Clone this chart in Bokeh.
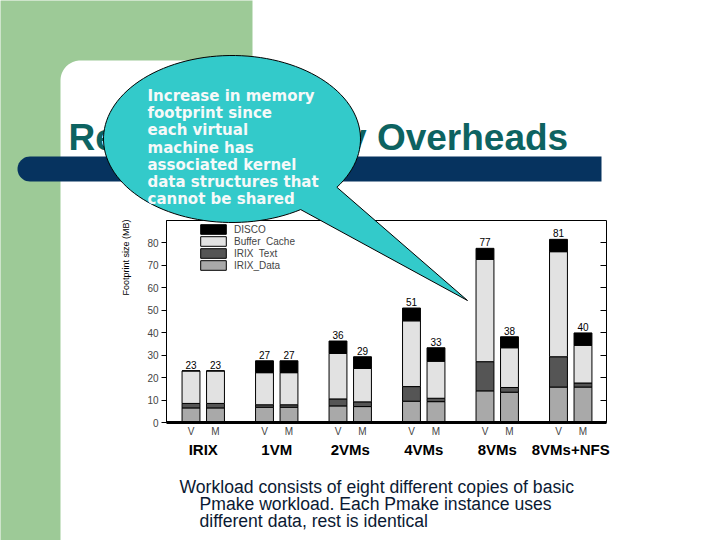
import math
from bokeh.plotting import figure
from bokeh.models import (Range1d, ColumnDataSource, Legend, LegendItem,
                          LabelSet, LinearAxis, FixedTicker)
from bokeh.embed import file_html
from bokeh.resources import INLINE
from bokeh.core.properties import value

# ---------------- data ----------------
groups = ["IRIX", "1VM", "2VMs", "4VMs", "8VMs", "8VMs+NFS"]
modes = ["V", "M"]
irix_data = [6.5, 6.5, 6.8, 6.8, 7.4, 7.1, 9.5, 9.3, 14.1, 13.5, 15.8, 15.8]
irix_text = [2.0, 2.0, 1.1, 1.1, 3.1, 2.1, 6.5, 1.5, 13.0, 2.1, 13.5, 1.8]
buffer_cache = [14.5, 14.5, 14.3, 14.3, 20.3, 14.9, 29.3, 16.5, 45.6, 17.7, 46.8, 16.8]
disco = [0.0, 0.0, 5.3, 5.3, 5.5, 5.2, 5.7, 6.0, 4.9, 4.9, 5.5, 5.5]
totals = [23, 23, 27, 27, 36, 29, 51, 33, 77, 38, 81, 40]
y_ticks = [0, 10, 20, 30, 40, 50, 60, 70, 80]
series_names = ["IRIX_Data", "IRIX  Text", "Buffer  Cache", "DISCO"]
series_colors = ["#a9a9a9", "#555555", "#e2e2e2", "#000000"]
y_label = "Footprint size (MB)"
title_text = "Results: Memory Overheads"
callout_lines = ["Increase in memory", "footprint since", "each virtual", "machine has",
                 "associated kernel", "data structures that", "cannot be shared"]
footer_lines = ["Workload consists of eight different copies of basic",
                "Pmake workload. Each Pmake instance uses",
                "different data, rest is identical"]

# dodge: each group takes 3 slots (V, M, gap)
GROUP_STEP = 3
xpos = [gi * GROUP_STEP + mi for gi in range(len(groups)) for mi in range(len(modes))]
sub_labels = [m for g in groups for m in modes]
group_centers = [gi * GROUP_STEP + (len(modes) - 1) / 2 for gi in range(len(groups))]
tops = [a + b + c + d for a, b, c, d in zip(irix_data, irix_text, buffer_cache, disco)]
source = ColumnDataSource(dict(x=xpos, irix_data=irix_data, irix_text=irix_text,
                               buffer_cache=buffer_cache, disco=disco, top=tops,
                               total=[str(t) for t in totals]))

# ---------------- layout ----------------
W, H = 720, 540
FL, FR, FT, FB = 166, 606, 220, 422       # chart box in page pixels
CX0, CX1, CY0, CY1 = -1.0, 16.96, 0, 90   # chart box in chart units


def stretch(v0, v1, p0, p1, P0, P1):
    """range whose values v0,v1 sit at pixels p0,p1 of a span P0..P1"""
    k = (v1 - v0) / (p1 - p0)
    return Range1d(v0 - (p0 - P0) * k, v1 + (P1 - p1) * k)


p = figure(x_range=Range1d(0, W), y_range=Range1d(H, 0), width=W, height=H,
           output_backend="svg", toolbar_location=None,
           x_axis_location=None, y_axis_location=None,
           min_border=0, min_border_left=0, min_border_right=0,
           min_border_top=0, min_border_bottom=0)
p.title.visible = False
p.xgrid.visible = False
p.ygrid.visible = False
p.outline_line_color = None
p.background_fill_color = "white"
p.border_fill_color = "white"

p.extra_x_ranges = {"cx": stretch(CX0, CX1, FL, FR, 0, W)}
p.extra_y_ranges = {"cy": stretch(CY0, CY1, FB, FT, H, 0)}

# ---------------- slide decorations (page pixels) ----------------
gx, gy = [-10, 252, 252], [-10, -10, 60]
for k in range(0, 21):
    t = -math.pi / 2 - k * (math.pi / 2) / 20
    gx.append(80 + 20 * math.cos(t))
    gy.append(80 + 20 * math.sin(t))
gx += [60, -10]
gy += [560, 560]
p.patch(gx, gy, fill_color="#9dca97", line_color=None)

nx, ny = [], []
for k in range(0, 21):
    t = math.pi / 2 + k * math.pi / 20
    nx.append(29.5 + 12.5 * math.cos(t))
    ny.append(168.5 + 12.5 * math.sin(t))
nx += [601, 601]
ny += [156, 181]
p.patch(nx, ny, fill_color="#06335f", line_color=None)

p.text(x=[68], y=[137], text=[title_text], text_font=value("Liberation Sans"),
       text_font_style="bold", text_font_size=value("37px"), text_color="#0d6361",
       text_baseline=value("alphabetic"))

# ---------------- chart ----------------
p.quad(left=[CX0], right=[CX1], bottom=[CY0], top=[CY1], x_range_name="cx", y_range_name="cy",
       fill_color=None, line_color="black", line_width=1)

rs = p.vbar_stack(["irix_data", "irix_text", "buffer_cache", "disco"], x="x", width=0.73,
                  source=source, fill_color=series_colors, line_color="black", line_width=1,
                  x_range_name="cx", y_range_name="cy")

p.add_layout(LabelSet(x="x", y="top", text="total", source=source, y_offset=2,
                      x_range_name="cx", y_range_name="cy",
                      text_align="center", text_baseline="bottom",
                      text_font=value("Liberation Sans"), text_font_size=value("10px"),
                      text_color="black"))

legend = Legend(items=[LegendItem(label=n, renderers=[r]) for n, r in reversed(list(zip(series_names, rs)))],
                location=(197, H - 271), orientation="vertical", glyph_width=32, glyph_height=12,
                label_height=12, label_standoff=5, spacing=0, padding=0, margin=0,
                border_line_color=None, background_fill_alpha=0,
                label_text_font_size="10px", label_text_font="Liberation Sans")
p.add_layout(legend)

ya = LinearAxis(y_range_name="cy", ticker=FixedTicker(ticks=y_ticks), fixed_location=FL,
                bounds=(CY0, CY1), major_label_text_font="Liberation Sans",
                major_label_text_font_size="10px", major_tick_out=5, major_tick_in=0,
                minor_tick_line_color=None, axis_line_color="black", major_label_standoff=3)
p.add_layout(ya, "left")

ra = LinearAxis(y_range_name="cy", ticker=FixedTicker(ticks=y_ticks[1:]), fixed_location=FR,
                bounds=(CY0, CY1), major_label_text_color=None, axis_line_color=None,
                major_tick_in=6, major_tick_out=0, minor_tick_line_color=None)
p.add_layout(ra, "right")

xa = LinearAxis(x_range_name="cx", ticker=FixedTicker(ticks=xpos), fixed_location=FB,
                bounds=(CX0, CX1),
                major_label_overrides={x: s for x, s in zip(xpos, sub_labels)},
                axis_line_width=3, axis_line_color="black", major_tick_line_color=None,
                major_tick_out=0, major_tick_in=0, minor_tick_line_color=None,
                major_label_text_font="Liberation Sans", major_label_text_font_size="10px",
                major_label_standoff=3)
p.add_layout(xa, "below")

ga = LinearAxis(x_range_name="cx", ticker=FixedTicker(ticks=group_centers), fixed_location=FB,
                major_label_overrides={x: g for x, g in zip(group_centers, groups)},
                axis_line_color=None, major_tick_line_color=None, major_tick_out=0,
                major_tick_in=0, minor_tick_line_color=None,
                major_label_text_font="Liberation Sans", major_label_text_font_size="15px",
                major_label_text_font_style="bold", major_label_text_color="black",
                major_label_standoff=18)
p.add_layout(ga, "below")

p.text(x=[125], y=[257], text=[y_label], angle=math.pi / 2, text_align=value("center"),
       text_baseline=value("middle"), text_font=value("Liberation Sans"),
       text_font_size=value("9px"), text_color="black")

# ---------------- callout balloon (on top) ----------------
cx, cy, rx, ry = 231.5, 138.5, 128.5, 83.5
a0, a1 = math.radians(57.7), math.radians(360 + 35.3)
bx, by = [], []
for k in range(0, 121):
    t = a0 + (a1 - a0) * k / 120
    bx.append(cx + rx * math.cos(t))
    by.append(cy + ry * math.sin(t))
bx.append(467)
by.append(300)
balloon = p.patch(bx, by, fill_color="#33caca", line_color="black", line_width=1)
balloon.level = "overlay"

ct = p.text(x=[147] * len(callout_lines), y=[95.5 + 17.2 * i for i in range(len(callout_lines))],
            text=callout_lines, text_font=value("DejaVu Sans"), text_font_style="bold",
            text_font_size=value("15px"), text_color="#f6f9f9", text_baseline=value("alphabetic"))
ct.level = "overlay"

p.text(x=[179] + [199] * (len(footer_lines) - 1), y=[486 + 17 * i for i in range(len(footer_lines))],
       text=footer_lines, text_font=value("Liberation Sans"), text_font_size=value("17.6px"),
       text_color="#0b1a33", text_baseline=value("alphabetic"))

open("out.html", "w").write(file_html(p, INLINE))
